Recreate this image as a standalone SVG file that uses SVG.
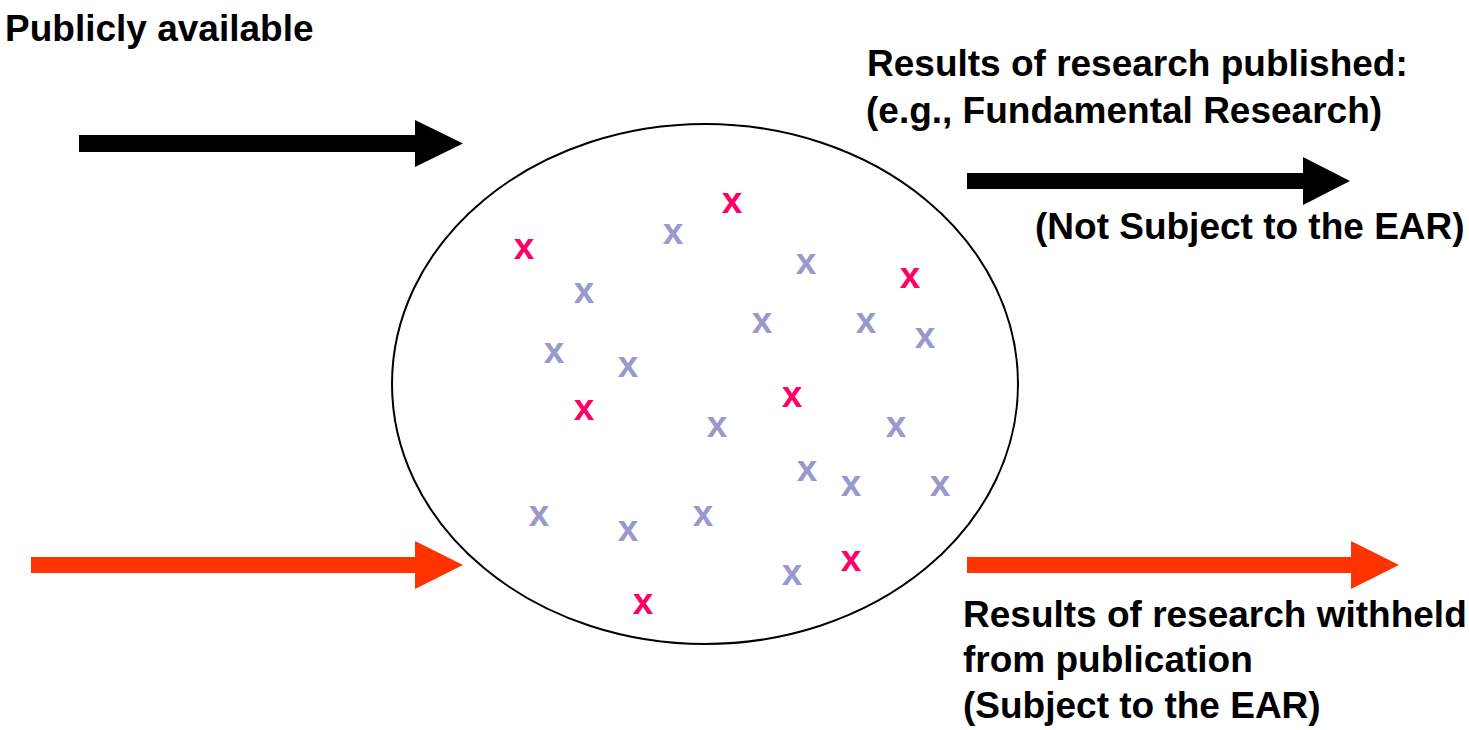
<svg xmlns="http://www.w3.org/2000/svg" width="1469" height="730" viewBox="0 0 1469 730">
<style>
.t{font-family:"Liberation Sans",Arial,sans-serif;font-weight:bold;font-size:37px;fill:#000}
.x{font-family:"Liberation Sans",Arial,sans-serif;font-weight:bold;font-size:37px;text-anchor:middle}
.r{fill:#FF0066}
.b{fill:#9999CC}
</style>
<rect width="1469" height="730" fill="#fff"/>
<g id="connectors">
<polygon fill="#000" points="79,135 415,135 415,120 463,143.5 415,167 415,152 79,152"/>
<polygon fill="#000" points="967,173 1303,173 1303,157 1350,181 1303,205 1303,189 967,189"/>
<polygon fill="#FF3300" points="31,557 415,557 415,541 463,565 415,589 415,573 31,573"/>
<polygon fill="#FF3300" points="967,557 1351,557 1351,541 1399,565 1351,589 1351,573 967,573"/>
</g>
<g id="pool">
<ellipse cx="705" cy="384" rx="313" ry="260" fill="none" stroke="#000" stroke-width="2"/>
<g id="marks">
<text class="x r" x="732" y="213">x</text>
<text class="x r" x="524" y="259">x</text>
<text class="x r" x="910" y="288">x</text>
<text class="x r" x="584" y="420">x</text>
<text class="x r" x="792" y="407">x</text>
<text class="x r" x="851" y="571">x</text>
<text class="x r" x="643" y="614">x</text>
<text class="x b" x="673" y="244">x</text>
<text class="x b" x="806" y="274">x</text>
<text class="x b" x="584" y="303">x</text>
<text class="x b" x="762" y="333">x</text>
<text class="x b" x="866" y="333">x</text>
<text class="x b" x="925" y="348">x</text>
<text class="x b" x="554" y="363">x</text>
<text class="x b" x="628" y="377">x</text>
<text class="x b" x="717" y="437">x</text>
<text class="x b" x="896" y="437">x</text>
<text class="x b" x="807" y="481">x</text>
<text class="x b" x="851" y="496">x</text>
<text class="x b" x="940" y="496">x</text>
<text class="x b" x="539" y="526">x</text>
<text class="x b" x="628" y="541">x</text>
<text class="x b" x="703" y="526">x</text>
<text class="x b" x="792" y="585">x</text>
</g>
</g>
<g id="label-public"><text class="t" x="5" y="41">Publicly available</text></g>
<g id="label-published">
<text class="t" x="867" y="76">Results of research published:</text>
<text class="t" x="866" y="123">(e.g., Fundamental Research)</text>
<text class="t" x="1035" y="239">(Not Subject to the EAR)</text>
</g>
<g id="label-withheld">
<text class="t" x="963" y="627">Results of research withheld</text>
<text class="t" x="963" y="672">from publication</text>
<text class="t" x="963" y="718">(Subject to the EAR)</text>
</g>
</svg>
